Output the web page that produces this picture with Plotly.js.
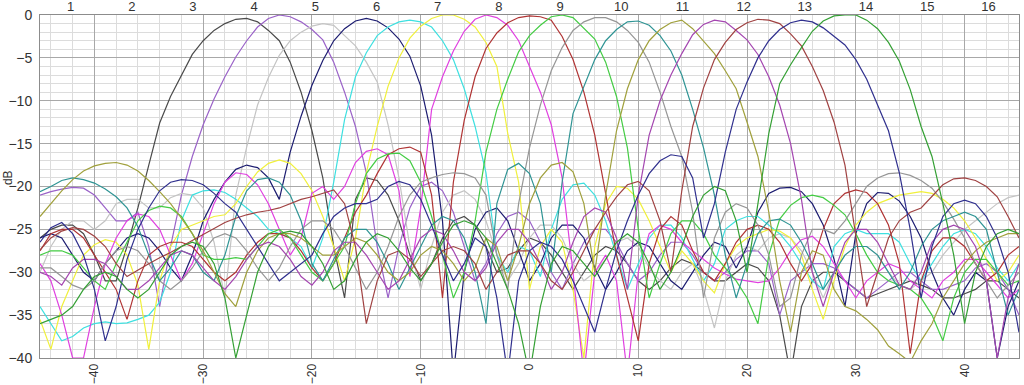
<!DOCTYPE html>
<html>
<head>
<meta charset="utf-8">
<script src="https://cdn.plot.ly/plotly-3.0.1.min.js"></script>
<style>html,body{margin:0;padding:0;background:#fff;}#chart{width:1024px;height:385px;}</style>
</head>
<body>
<div id="chart"></div>
<script>
// Scan angle (degrees)
const angles = [-45,-44,-43,-42,-41,-40,-39,-38,-37,-36,
  -35,-34,-33,-32,-31,-30,-29,-28,-27,-26,
  -25,-24,-23,-22,-21,-20,-19,-18,-17,-16,
  -15,-14,-13,-12,-11,-10,-9,-8,-7,-6,
  -5,-4,-3,-2,-1,0,1,2,3,4,
  5,6,7,8,9,10,11,12,13,14,
  15,16,17,18,19,20,21,22,23,24,
  25,26,27,28,29,30,31,32,33,34,
  35,36,37,38,39,40,41,42,43,44,45];

// Beam numbers (top axis labels)
const beamNumbers = [1,2,3,4,5,6,7,8,9,10,11,12,13,14,15,16];
const xTickVals = [-40,-30,-20,-10,0,10,20,30,40];

// Beam patterns (dB), one value per angle
const beam1 = [-26,-25,-24.5,-24.5,-25.5,-28,-31,-31,-27,-22.5,
 -17.5,-12.6,-9.5,-7,-4.6,-3,-1.8,-1,-0.5,-0.4,
 -0.8,-1.8,-3,-5.5,-9,-13.5,-19,-27,-33,-21.5,
 -19,-19.3,-21,-24,-28,-31,-29,-26,-24,-23.5,
 -24.5,-27,-30,-29.5,-27.5,-26,-26.5,-28,-30,-32,
 -30,-28,-27,-27.5,-29,-31,-32,-31,-29.5,-28.5,
 -29,-30,-31,-31,-30,-29,-29.5,-31,-35,-42,
 -34,-31,-30,-30,-31,-32,-33,-32.5,-32,-31.5,
 -31,-31.5,-32,-33,-33,-32.5,-32,-31,-31,-32,
 -33];
const beam2 = [-21,-20.6,-20.3,-20.1,-20.2,-21,-22.5,-24,-24,-23,
 -27,-34,-27,-21,-16.5,-12.8,-9.8,-7.2,-4.9,-3,
 -1.4,-0.4,0,-0.2,-0.8,-1.7,-2.9,-5.5,-9,-13,
 -18.4,-27,-33,-27,-22.5,-20,-19.5,-20.5,-23,-27,
 -31,-29,-25.5,-23.5,-23,-24,-26.5,-30,-32,-29,
 -26.5,-25,-25,-26.5,-29,-31,-30,-28,-26.5,-26.5,
 -28,-30,-31,-30,-28.5,-27.5,-27.5,-29,-35,-31,
 -30,-29,-29,-29.5,-31,-32,-33,-32,-31,-30,
 -30,-31,-32,-32,-31.5,-31,-29.5,-29,-30,-32,
 -35];
const beam3 = [-30,-27,-25,-24,-24,-25,-24,-22,-21.5,-21.5,
 -22.5,-22.5,-21.3,-20.8,-21,-22.5,-26.5,-33,-21,-15.4,
 -10.5,-7.3,-4.7,-3,-2,-1.3,-1,-1.2,-2.4,-3.6,
 -5.5,-7.8,-12.8,-19,-27,-32,-27,-23,-21,-20.5,
 -21.5,-24,-28,-31,-29,-26,-24.5,-24.5,-26,-29,
 -31,-30,-28.5,-26.5,-26,-27,-29.5,-31,-32,-30,
 -29,-32,-36.5,-31,-28,-27,-27.5,-26,-25.5,-26,
 -27.5,-30,-33,-30,-28,-27,-27,-28,-30,-31.5,
 -32,-31,-30,-28,-26.5,-25,-24,-23,-22,-21.3,
 -21];
const beam4 = [-26,-25.5,-26,-28,-30,-31,-29,-27.5,-26,-25.5,
 -26,-27.5,-29.5,-31,-28,-24,-21.5,-19.5,-18,-17.5,
 -17.8,-19,-21.5,-16,-11.8,-8.2,-5.3,-3,-1.6,-0.7,
 -0.4,-0.7,-1.5,-2.8,-4.8,-8.3,-14,-24,-42,-30,
 -25,-23,-22.5,-24,-27.5,-31,-29,-26,-24.5,-24.5,
 -26,-29.5,-32,-30,-27.5,-26.5,-27,-29,-31,-32,
 -30,-28,-26.5,-27,-29.5,-27,-23,-20.8,-20.2,-20.1,
 -20.6,-22,-24.5,-28.5,-34,-25.5,-22,-20.7,-20.8,-21.7,
 -23.5,-26,-30,-33,-35,-32,-30,-31,-40,-34,
 -31];
const beam5 = [-34,-36,-38,-37.5,-36.5,-36,-35.8,-36,-35.9,-35.5,
 -35,-33.5,-30,-24,-21,-20.5,-20.4,-20.7,-21.5,-22.5,
 -23.5,-25,-25.5,-26,-27,-29.5,-26,-19.5,-12.2,-7.2,
 -4.4,-2.4,-1.4,-0.8,-0.6,-0.8,-1.4,-3,-5.2,-8.6,
 -13,-18.4,-28,-30,-27,-27.5,-30.5,-25,-21.5,-19.8,
 -19.6,-21,-24,-28,-32,-29,-26,-24.5,-24.5,-26,
 -28.5,-31,-29,-25,-24,-23.5,-23.5,-24.5,-25.5,-27,
 -29,-31,-32,-27,-25.5,-25,-25.5,-25.5,-25.5,-26.5,
 -29,-31,-29,-27,-25.5,-25,-25.5,-27,-29.5,-31,
 -29];
const beam6 = [-35.5,-39,-34,-31,-28,-26.8,-26.2,-26.5,-28,-31.5,
 -39,-31,-27,-25,-24.5,-24,-23.5,-23.3,-22,-20,
 -18.3,-17.3,-16.9,-17.3,-18.5,-20.5,-23.5,-27,-31,-26,
 -18.4,-13,-8.3,-5,-2.7,-1.3,-0.4,0,0,-0.5,
 -1.4,-3.2,-6,-13.8,-19.5,-32,-27,-25,-26.5,-32,
 -40,-27,-22,-20,-20.2,-21.5,-24,-27,-30,-27.5,
 -29,-31,-32.4,-29,-27,-26,-25.5,-25,-25.2,-26,
 -28,-32,-35.5,-31,-27,-24.5,-23,-22,-21.5,-21,
 -20.8,-20.6,-20.8,-21.5,-22.5,-24,-26,-28.5,-31,-30,
 -28];
const beam7 = [-29,-31,-35,-40,-40,-34,-29,-26,-24,-23.2,
 -23.5,-25,-28,-31,-29,-25.5,-22,-19.5,-18.4,-18.6,
 -19.8,-22,-25,-28,-26,-20.8,-20,-21.5,-20,-17.2,
 -15.9,-15.6,-16.3,-20.5,-30.5,-22.5,-11,-7.2,-4.2,-1.9,
 -0.5,0,-0.3,-1.2,-3,-6,-9,-12.8,-19,-30,
 -42,-30,-28,-31,-42,-30,-25.5,-24.5,-25,-26.5,
 -27.5,-28.5,-29.5,-30.2,-30.8,-31,-31.2,-31,-29.5,-27.5,
 -26.2,-25.8,-27,-29,-31,-33,-31,-30,-29,-29.5,
 -31,-32,-33,-31,-30,-28.5,-28.5,-30,-31.5,-33,
 -32];
const beam8 = [-27.5,-25.5,-25,-25,-26,-28,-30,-32,-35.5,-31,
 -28,-27,-26.5,-26.5,-27,-28.5,-30,-31,-30,-28,
 -26.5,-25.5,-25.5,-26,-27.5,-29.5,-31,-29,-26,-23,
 -21,-18.5,-16.3,-15.6,-15.4,-16,-21,-33,-19.5,-12.3,
 -7.2,-3.9,-2.1,-0.9,-0.3,-0.1,-0.2,-0.6,-2.5,-5.2,
 -9,-14,-20.8,-28,-33,-38,-29,-25,-23.5,-24.5,
 -27.5,-30,-31,-29,-26.5,-25,-24.5,-25,-26.5,-29,
 -31,-29,-25,-22,-20.8,-20.4,-20.7,-22,-24.5,-29,
 -39.5,-31,-27.5,-26,-26,-27,-29,-31,-30,-28,
 -27];
const beam9 = [-28,-27.5,-27.5,-28,-29.5,-31,-32,-29,-26.5,-24,
 -22.8,-22.3,-22.5,-23.5,-25.5,-28,-28.5,-28.5,-28.3,-28.5,
 -27,-25.5,-25,-26,-28,-30,-31,-29,-27,-22,
 -18.5,-16.8,-16.2,-16.1,-17,-19.5,-23.5,-28,-33,-30,
 -24,-16,-11,-7.5,-4.3,-2.4,-1.2,-0.2,0,-0.3,
 -1.5,-2.8,-5.5,-9.5,-15.5,-25,-33,-29,-25.5,-24,
 -24,-25.5,-28,-29.5,-31,-33,-36,-28,-23.8,-22.2,
 -21.3,-21,-21.3,-22.2,-23.3,-25.5,-28,-30,-31,-31.5,
 -32,-33,-35,-38,-33,-30,-28.5,-28.5,-30,-31.5,
 -31];
const beam10 = [-29.5,-29.5,-30.5,-31.5,-32,-31,-29,-27.5,-27,-27.5,
 -29,-31,-32,-31,-29.5,-27.5,-26,-25.5,-26,-27.5,
 -29.5,-31,-29.5,-27,-25,-24,-24,-25,-27,-29.5,
 -32,-30,-27,-23.5,-21,-19.5,-19,-18.6,-18.4,-18.5,
 -19,-21,-28,-32,-22,-15.5,-10.5,-6.5,-3.8,-1.8,
 -0.8,-0.3,-0.3,-0.8,-1.8,-3.2,-5.5,-9,-13,-16.5,
 -23,-33,-26,-23,-22,-22.5,-24.5,-28,-34,-33,
 -28,-25,-25,-25.5,-24,-22,-20,-19,-18.5,-18.4,
 -18.7,-19.3,-20.2,-21.8,-23.8,-26,-29,-31,-33,-31.5,
 -30];
const beam11 = [-20.6,-20,-19.3,-19,-19.2,-19.6,-20.3,-21.2,-22.5,-24.7,
 -28,-31,-29.5,-27.5,-28,-30,-31,-28,-23.5,-20.5,
 -19.2,-19,-19.5,-21,-24,-29,-31,-28.5,-26,-25,
 -25,-26.5,-29,-32,-29.5,-27,-24.5,-23.5,-24,-26,
 -30,-36,-22,-18,-17.3,-18.5,-22,-30,-19.5,-11.5,
 -8.3,-5.2,-3,-1.7,-0.8,-0.7,-1.2,-2.4,-4.2,-7,
 -11,-15.5,-21,-28,-33,-29,-25.5,-24,-23.8,-24.5,
 -26.5,-29,-32,-30,-28,-27,-27,-28,-30,-32,
 -30,-27,-25,-24,-23.5,-23,-23.5,-25,-30,-35,
 -32];
const beam12 = [-23.5,-22,-20.5,-19.2,-18.2,-17.6,-17.3,-17.2,-17.5,-18.2,
 -19.3,-20.6,-22,-23.7,-25.5,-27.5,-30,-32.5,-34,-30,
 -27.5,-26,-25.5,-25.5,-26,-27,-28,-28,-27,-26,
 -26.5,-28,-30,-31,-30,-28,-27,-27.5,-29,-31,
 -29.5,-26,-27,-31,-27,-22,-19,-17.5,-17.2,-18.3,
 -22,-30,-21,-13.5,-8.6,-5.2,-3,-1.7,-0.9,-0.6,
 -1.6,-3,-4.5,-6.5,-8.6,-12.5,-16.5,-23,-31,-37,
 -30,-27.5,-28,-32,-34,-34.5,-35.5,-36.7,-38.6,-39.5,
 -40.5,-38,-36,-33,-31,-29,-27.5,-26.5,-26,-25.5,
 -25.5];
const beam13 = [-30,-30.5,-31.5,-29.5,-28.5,-28.5,-29,-30.5,-32,-32,
 -31,-29.5,-28,-27.5,-28,-29.5,-31,-32,-30.5,-28.5,
 -27,-26.5,-27,-28.5,-30.5,-31.5,-30,-27.5,-26.5,-26.5,
 -28,-30,-32,-31,-28.5,-26,-25,-25.5,-27.5,-30,
 -31,-29.5,-26.5,-25,-25,-26.5,-29,-32,-30,-26.5,
 -23.5,-22.5,-23,-26,-32,-21,-14,-10,-7,-4.5,
 -2.3,-1.1,-0.6,-0.8,-1.8,-2.9,-4.6,-7.2,-10.5,-15,
 -21.5,-30,-34,-30,-26.5,-25,-25,-26.5,-29,-31.5,
 -32,-30,-26.5,-25,-24.5,-25,-27,-31,-40,-33,
 -29];
const beam14 = [-27.4,-26,-25.2,-24.8,-25,-25.8,-27,-29,-30.5,-29.7,
 -29,-28.3,-27.7,-27,-26.3,-25.6,-25,-24.2,-23.7,-23.3,
 -23,-22.8,-22.5,-22,-21.5,-21.2,-20.8,-20.4,-22,-27,
 -36,-31,-28,-27.5,-28.5,-30.5,-29,-27.5,-27,-27.5,
 -29,-32,-30,-28,-27.5,-27.5,-29,-31,-32,-30,
 -27.5,-25,-23,-21.2,-19.8,-19.4,-20.5,-24,-30,-20.5,
 -13,-8.5,-5.2,-3.2,-1.7,-0.9,-0.5,-0.6,-1,-2.2,
 -3.6,-6,-8.8,-12.5,-17.5,-26,-34,-30,-26,-24,
 -23,-22.5,-21.2,-19.8,-19.1,-19,-19.3,-20,-21.2,-23.5,
 -26];
const beam15 = [-26.5,-24.8,-24.2,-25.5,-28,-32,-38,-34,-28.5,-25,
 -22.5,-20.5,-19.5,-19.2,-19.3,-19.8,-20.8,-22,-23,-25,
 -27,-29,-31,-30,-29,-28,-25.5,-23.5,-22.5,-22,
 -22,-21.5,-20,-19.4,-19.8,-21.5,-24.5,-28,-31,-29,
 -26,-27,-33,-42,-31,-27.5,-26.5,-27,-28.5,-31,
 -34,-37,-32,-27.5,-24,-21,-18.5,-17,-16.3,-16.5,
 -19,-26,-22,-16,-11,-7.8,-5,-3,-1.7,-0.9,
 -0.6,-0.8,-1.5,-2.5,-3.5,-5.2,-7.5,-10.5,-13.5,-18.4,
 -25,-33,-27,-23.5,-22,-21.6,-22,-23.5,-26,-30,
 -37];
const beam16 = [-36,-35.5,-35,-34,-32,-30.5,-30,-30.5,-32,-33,
 -32,-30,-28,-27,-26.5,-27,-29,-33,-40,-35,
 -30,-27,-25.5,-25.2,-25.5,-27,-29,-32,-31,-28.5,
 -26.5,-25.5,-26,-27.5,-29.5,-31,-29,-26.5,-24.5,-24,
 -24.5,-26,-29,-32,-36,-42,-34,-29,-27,-27.5,
 -29,-30.5,-28.5,-26.5,-25.5,-26.5,-29,-32,-30,-27,
 -23.5,-21,-20,-20.5,-24,-30,-22,-13.8,-8,-5.8,
 -3.8,-1.9,-0.7,-0.1,0,0,-0.6,-1.6,-3.2,-5.4,
 -8.7,-13,-16.5,-22,-28,-36,-30,-27,-25.5,-25,
 -25.5];

const beams = [beam1,beam2,beam3,beam4,beam5,beam6,beam7,beam8,
               beam9,beam10,beam11,beam12,beam13,beam14,beam15,beam16];
const beamColors = ['#4a4a4a','#9a62c8','#c4c4c4','#1c1c70','#3ee0e0','#f0f03c','#e040e0','#b03434',
                    '#44cc44','#969696','#2f9494','#a0a03c','#a446b0','#a04242','#30308e','#34a034'];

const traces = beams.map((b, i) => ({
  x: angles, y: b, type: 'scatter', mode: 'lines',
  name: String(beamNumbers[i]),
  line: {color: beamColors[i], width: 1.2},
  hoverinfo: 'skip', showlegend: false
}));
// carrier for the top (beam number) axis
traces.push({x: beamNumbers, y: beamNumbers.map(() => null), xaxis: 'x2', type: 'scatter',
  mode: 'lines', hoverinfo: 'skip', showlegend: false});

const layout = {
  width: 1024, height: 385,
  margin: {l: 40, r: 5, t: 15, b: 27, pad: 0},
  paper_bgcolor: '#ffffff', plot_bgcolor: '#ffffff',
  showlegend: false,
  font: {family: 'Liberation Sans, Arial, sans-serif', size: 14, color: '#333333'},
  xaxis: {
    range: [-45, 45], tickvals: xTickVals, tickangle: -90,
    showgrid: true, gridcolor: '#a8a8a8', gridwidth: 1,
    minor: {dtick: 2, tick0: 0, showgrid: true, gridcolor: '#dcdcdc', gridwidth: 1, ticks: ''},
    zeroline: false, showline: true, linecolor: '#8c8c8c', linewidth: 1, mirror: true,
    ticks: '', ticklabelstandoff: 0, tickfont: {size: 12, color: '#333333'}, fixedrange: true
  },
  xaxis2: {
    overlaying: 'x', side: 'top', range: [0.5, 16.5], tickvals: beamNumbers,
    showgrid: false, zeroline: false, showline: false, ticks: '',
    tickfont: {size: 13, color: '#333333'}, fixedrange: true
  },
  yaxis: {
    range: [-40, 0], dtick: 5, tick0: 0,
    showgrid: true, gridcolor: '#a8a8a8', gridwidth: 1,
    minor: {dtick: 1, tick0: 0, showgrid: true, gridcolor: '#dcdcdc', gridwidth: 1, ticks: ''},
    zeroline: false, showline: true, linecolor: '#8c8c8c', linewidth: 1, mirror: true,
    ticks: '', ticklabelstandoff: 4, tickfont: {size: 14, color: '#333333'}, fixedrange: true
  },
  annotations: [{
    text: 'dB', xref: 'paper', yref: 'y', x: -0.0325, y: -19,
    textangle: -90, showarrow: false, xanchor: 'center', yanchor: 'middle',
    font: {size: 12, color: '#333333'}
  }]
};

Plotly.newPlot('chart', traces, layout, {staticPlot: true, displayModeBar: false});
</script>
</body>
</html>
